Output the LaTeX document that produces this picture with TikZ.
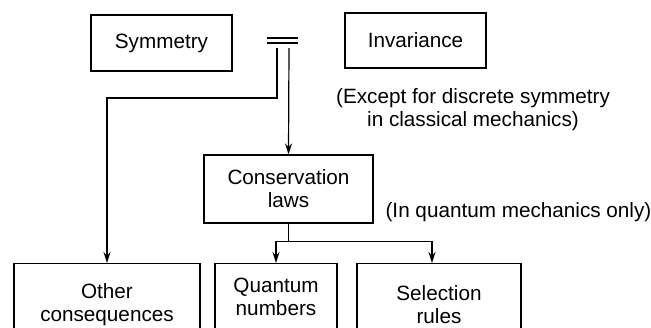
\documentclass[tikz,border=0pt]{standalone}
\usepackage{fontspec}
\setmainfont{Liberation Sans}
\usetikzlibrary{positioning}
\usetikzlibrary{arrows.meta}

\begin{document}
\begin{tikzpicture}[x=1pt, y=-1pt, line width=1.2pt,
    font=\fontsize{20.7}{23}\selectfont,
    box/.style={draw, inner sep=0pt, align=center},
    arr/.style={-{Stealth[length=11pt, width=7pt]}}]
  \clip (0,0) rectangle (651,327);
  %---------------- top row ----------------
  \node[box, minimum width=141, minimum height=56] (sym) at (161.5,43) {Symmetry};
  \node[box, minimum width=141, minimum height=55] (inv) at (415.5,40.5) {Invariance};
  \draw (267,38) -- (298,38);
  \draw (267,43) -- (298,43);
  \coordinate (eqL) at (277,48);
  \coordinate (eqR) at (289,48);
  \node[align=center] (exc) at (473,110) {(Except for discrete symmetry\\in classical mechanics)};

  %---------------- conservation ----------------
  \node[box, minimum width=169, minimum height=68] (cons) at (288.5,189) {Conservation\\laws};
  \node[anchor=west, inner sep=0pt] (qmo) at (385,212) {(In quantum mechanics only)};

  %---------------- bottom row ----------------
  \node[box, anchor=north, minimum width=186, minimum height=82] (oth) at (107,263) {Other\\consequences};
  \node[box, anchor=north, minimum width=122, minimum height=66] (qn) at (276,263) {Quantum\\numbers};
  \node[box, anchor=north, minimum width=164, minimum height=82] (sel) at (439,263) {Selection\\rules};

  %---------------- arrows ----------------
  \draw[arr] (eqL) -- ++(0,50) -| (oth.north);
  \draw[arr] (eqR) -- (cons.north);
  \draw (cons.south) -- ++(0,18) coordinate (split);
  \draw[arr] (split) -| (qn.north);
  \draw[arr] (split) -| ([xshift=-7pt]sel.north);
\end{tikzpicture}
\end{document}
